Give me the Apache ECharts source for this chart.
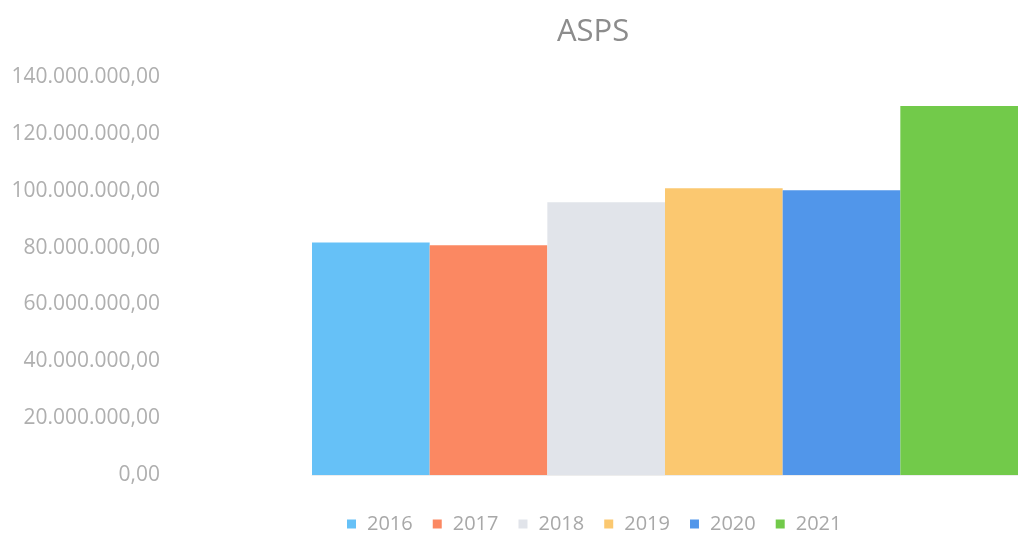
<!DOCTYPE html>
<html>
<head>
<meta charset="utf-8">
<script src="https://cdn.jsdelivr.net/npm/echarts@6/dist/echarts.min.js"></script>
<style>
html, body { margin: 0; padding: 0; background: #fff; }
#main { width: 1018px; height: 538px; }
</style>
</head>
<body>
<div id="main"></div>
<script>
var years = ['2016', '2017', '2018', '2019', '2020', '2021'];
var values = [81800000, 80800000, 95900000, 100900000, 100200000, 129800000];
var colors = ['#66c1f7', '#fb8862', '#e1e4ea', '#fbc870', '#5196ea', '#72ca4a'];
var category = ['ASPS'];

// formato 140.000.000,00
function fmt(v) {
    var s = Math.round(v).toString().replace(/\B(?=(\d{3})+(?!\d))/g, '.');
    return s + ',00';
}

var chart = echarts.init(document.getElementById('main'));
var series = years.map(function (y, i) {
    return {
        name: y,
        type: 'bar',
        data: [values[i]],
        barGap: '0%',
        barCategoryGap: '0%',
        itemStyle: { color: colors[i] }
    };
});

chart.setOption({
    animation: false,
    title: {
        text: 'ASPS',
        left: 552,
        top: 12,
        textStyle: {
            fontFamily: 'Open Sans',
            fontSize: 31,
            fontWeight: 'normal',
            color: '#8c8c8c'
        }
    },
    legend: {
        left: 342,
        top: 509,
        itemWidth: 9,
        itemHeight: 9,
        itemGap: 20,
        icon: 'rect',
        textStyle: {
            fontFamily: 'Open Sans',
            fontSize: 20,
            color: '#a8a8a8',
            padding: [0, 0, 0, 6]
        },
        data: years
    },
    grid: {
        left: 312,
        right: -14,
        top: 77,
        bottom: 63
    },
    xAxis: {
        type: 'category',
        data: category,
        axisLabel: { show: false },
        axisTick: { show: false },
        axisLine: { show: true, lineStyle: { color: '#ededed' } }
    },
    yAxis: {
        type: 'value',
        min: 0,
        max: 140000000,
        interval: 20000000,
        splitLine: { show: false },
        axisLine: { show: false },
        axisTick: { show: false },
        axisLabel: {
            margin: 152,
            fontFamily: 'Open Sans',
            fontSize: 21,
            color: '#afafaf',
            formatter: fmt
        }
    },
    series: series
});
</script>
</body>
</html>
